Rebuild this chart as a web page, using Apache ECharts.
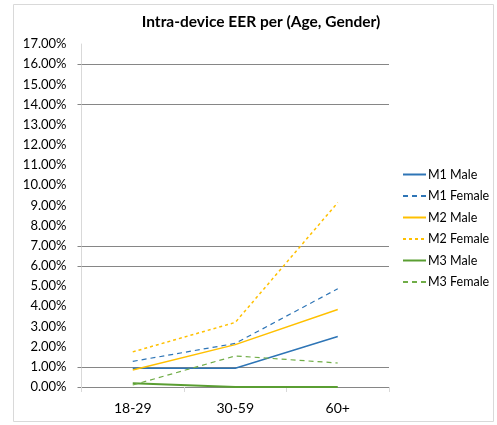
<!DOCTYPE html>
<html><head><meta charset="utf-8">
<script src="https://cdn.jsdelivr.net/npm/echarts@6/dist/echarts.min.js"></script>
<style>html,body{margin:0;padding:0;background:#fff}#c{width:497px;height:425px}</style>
</head><body><div id="c"></div>
<script>
var categories = ['18-29', '30-59', '60+'];
var m1Male = [0.93, 0.93, 2.5];
var m1Female = [1.27, 2.16, 4.87];
var m2Male = [0.84, 2.1, 3.84];
var m2Female = [1.74, 3.2, 9.14];
var m3Male = [0.18, 0.0, 0.0];
var m3Female = [0.1, 1.54, 1.19];
var gridValues = [0, 1, 6, 7, 14, 16];

var FONT = 'Lato';
var chart = echarts.init(document.getElementById('c'));

function ser(name, data, color, width, dash) {
  return {
    name: name, type: 'line', data: data, symbol: 'none', animation: false,
    lineStyle: { color: color, width: width, type: dash || 'solid' },
    itemStyle: { color: color }
  };
}

chart.setOption({
  animation: false,
  title: {
    text: 'Intra-device EER per (Age, Gender)', left: 256, top: 9, textAlign: 'center',
    textStyle: { fontFamily: FONT, fontSize: 15.5, fontWeight: 'bold', color: '#000' }
  },
  graphic: [{ type: 'rect', shape: { x: 13.5, y: 4.5, width: 480, height: 417 },
    style: { fill: 'none', stroke: '#d9d9d9', lineWidth: 1 }, silent: true, z: -1 }],
  grid: { left: 81.5, right: 108, top: 44, bottom: 38, containLabel: false },
  legend: {
    orient: 'vertical', left: 402, top: 167, padding: 0, itemWidth: 23, itemHeight: 14, itemGap: 6.5,
    itemStyle: { opacity: 0 },
    textStyle: { fontFamily: FONT, fontSize: 12.5, color: '#000', padding: [0, 0, 0, -3], lineHeight: 15 },
    data: ['M1 Male', 'M1 Female', 'M2 Male', 'M2 Female', 'M3 Male', 'M3 Female']
  },
  xAxis: {
    type: 'category', data: categories, boundaryGap: true,
    axisLine: { show: true, lineStyle: { color: '#868686', width: 1 } },
    axisTick: { show: true, length: 5, lineStyle: { color: '#d9d9d9' } },
    axisLabel: { fontFamily: FONT, fontSize: 14, color: '#000', margin: 14 },
    splitLine: { show: false }
  },
  yAxis: {
    type: 'value', min: 0, max: 17, interval: 1,
    axisLine: { show: true, lineStyle: { color: '#d9d9d9', width: 1 } },
    axisTick: { show: true, length: 4, inside: false, customValues: gridValues, lineStyle: { color: '#868686' } },
    axisLabel: { fontFamily: FONT, fontSize: 13, color: '#000', margin: 15,
      formatter: function (v) { return v.toFixed(2) + '%'; } },
    splitLine: { show: true, lineStyle: { color: '#868686', width: 1 } }
  },
  series: [
    ser('M1 Male', m1Male, '#2e75b6', 1.5),
    ser('M1 Female', m1Female, '#2e75b6', 1.2, [5, 4]),
    ser('M2 Male', m2Male, '#ffc000', 1.5),
    ser('M2 Female', m2Female, '#ffc000', 1.5, [3, 3]),
    ser('M3 Male', m3Male, '#5a9e32', 2),
    ser('M3 Female', m3Female, '#70ad47', 1.2, [5, 4])
  ]
});
</script></body></html>
